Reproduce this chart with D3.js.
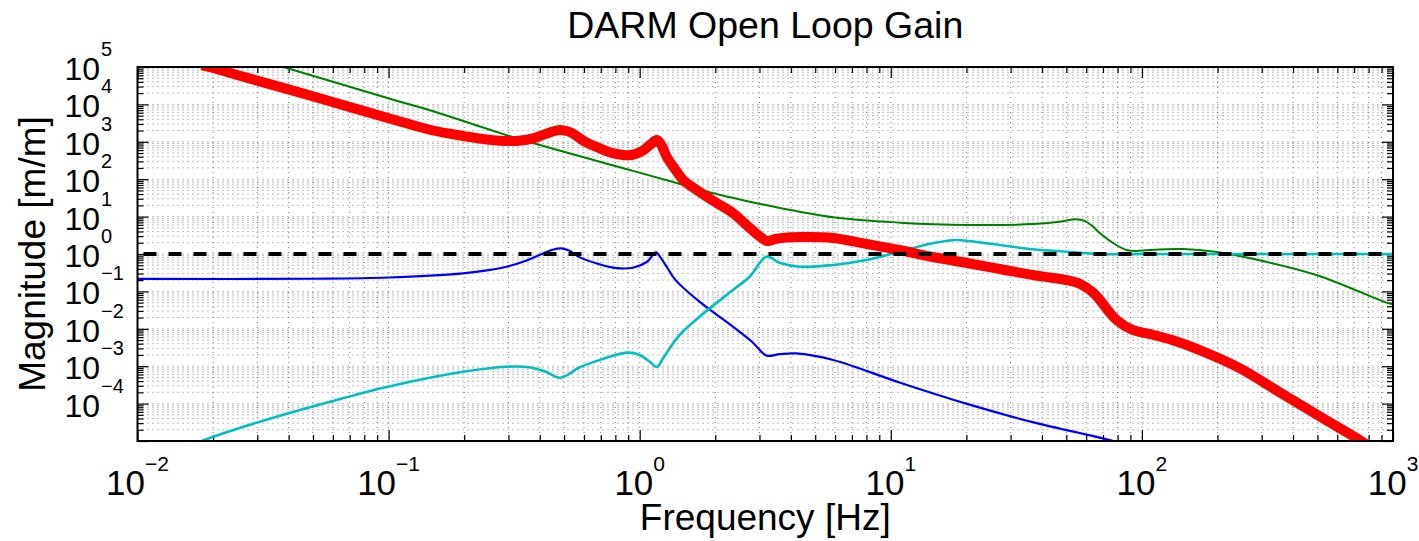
<!DOCTYPE html>
<html>
<head>
<meta charset="utf-8">
<script src="https://cdn.jsdelivr.net/npm/d3@7"></script>
<style>
  html, body { margin: 0; padding: 0; background: #fff; }
  svg { display: block; font-family: "Liberation Sans", Arial, Helvetica, sans-serif; }
</style>
</head>
<body>
<svg id="chart" width="1419" height="541"></svg>
<script>
// Open loop gain |G| (thick red)
const olgFreq = [0.018, 0.0193, 0.0272, 0.043, 0.0792, 0.111, 0.146, 0.175, 0.205, 0.24, 0.277, 0.33, 0.38, 0.43, 0.481, 0.53, 0.6, 0.694, 0.78, 0.857, 0.939, 1.02, 1.1, 1.17, 1.22, 1.28, 1.38, 1.49, 1.73, 2.05, 2.35, 2.74, 3.0, 3.21, 3.5, 4.0, 4.6, 5.87, 8.02, 10.8, 14.7, 20.1, 27.2, 36.7, 42.9, 50.2, 56.5, 63.7, 67.9, 73, 79.3, 91.8, 107, 132, 170, 245, 363, 524, 736, 820];
const olgMag  = [1.12e5, 1.0e5, 5.2e4, 2.2e4, 6700, 3500, 2100, 1650, 1380, 1180, 1070, 1060, 1250, 1700, 2070, 1800, 1050, 670, 500, 445, 450, 560, 830, 1120, 820, 400, 190, 95, 46, 22, 12.5, 5.0, 3.0, 2.23, 2.55, 2.8, 2.85, 2.68, 1.85, 1.28, 0.83, 0.574, 0.397, 0.275, 0.235, 0.2, 0.16, 0.095, 0.06, 0.032, 0.0172, 0.0093, 0.0073, 0.005, 0.0027, 8.9e-4, 1.8e-4, 4.1e-5, 1.07e-5, 6.5e-6];

// Green trace
const greenFreq = [0.0355, 0.0381, 0.111, 0.146, 0.324, 0.94, 1.59, 1.91, 2.74, 3.17, 5.9, 10.9, 20.1, 36.7, 47, 54.5, 59.4, 63.5, 67.9, 79, 86.9, 94.6, 107, 146, 196, 270, 495, 943, 1000];
const greenMag  = [1.15e5, 1.0e5, 1.18e4, 7000, 1240, 167, 63, 44, 25, 20.4, 9.6, 6.9, 5.96, 6.3, 7.3, 8.5, 7.6, 5.6, 3.64, 1.74, 1.28, 1.2, 1.28, 1.36, 1.15, 0.77, 0.275, 0.05, 0.045];

// Blue trace
const blueFreq = [0.01, 0.05, 0.1, 0.198, 0.25, 0.3, 0.35, 0.4, 0.45, 0.488, 0.525, 0.57, 0.68, 0.81, 0.94, 1.07, 1.16, 1.22, 1.28, 1.39, 1.73, 2.35, 2.8, 3.2, 3.6, 4.2, 5.9, 10.9, 20.1, 36.7, 77, 90];
const blueMag  = [0.215, 0.218, 0.235, 0.305, 0.37, 0.47, 0.65, 0.95, 1.3, 1.42, 1.22, 0.85, 0.55, 0.42, 0.43, 0.62, 1.11, 0.75, 0.457, 0.2, 0.053, 0.0114, 0.0045, 0.00192, 0.0021, 0.0022, 0.00147, 3.6e-4, 9.8e-5, 3.2e-5, 1.0e-5, 7e-6];

// Cyan trace
const cyanFreq = [0.017, 0.018, 0.0299, 0.0584, 0.0994, 0.198, 0.294, 0.363, 0.42, 0.481, 0.53, 0.566, 0.7, 0.89, 1.0, 1.1, 1.17, 1.25, 1.44, 1.73, 2.35, 2.74, 3.2, 3.6, 4.34, 5.9, 8.0, 10.8, 14.7, 18.2, 23.2, 36.7, 50.2, 68, 100, 1000];
const cyanMag  = [8.5e-6, 1.0e-5, 3.1e-5, 1.12e-4, 2.83e-4, 7.1e-4, 9.7e-4, 9.4e-4, 7.2e-4, 4.9e-4, 6.5e-4, 8.8e-4, 1.5e-3, 2.3e-3, 2.0e-3, 1.3e-3, 9.5e-4, 1.8e-3, 6.8e-3, 0.021, 0.109, 0.247, 0.85, 0.586, 0.457, 0.51, 0.69, 1.15, 1.93, 2.37, 2.0, 1.34, 1.15, 1.0, 1.0, 1.0];

// Unity gain reference
const unityFreq = [0.01, 1000];
const unityMag  = [1, 1];

// Axis decades and labelled exponents
const xDecades = [-2, -1, 0, 1, 2, 3];
const xLabelExps = [-2, -1, 0, 1, 2, 3];
const yDecades = [-5, -4, -3, -2, -1, 0, 1, 2, 3, 4, 5];
const yLabelExps = [5, 4, 3, 2, 1, 0, -1, -2, -3, -4];

const titleText = "DARM Open Loop Gain";
const xLabelText = "Frequency [Hz]";
const yLabelText = "Magnitude [m/m]";

const plot = { left: 137.5, right: 1393, top: 67, bottom: 441 };

const svg = d3.select("#chart");

const x = d3.scaleLog().domain([1e-2, 1e3]).range([plot.left, plot.right]);
const y = d3.scaleLog().domain([1e-5, 1e5]).range([plot.bottom, plot.top]);

// Major and minor tick values (1..9 times each power of ten)
function decadeTicks(decs) {
  const major = [], minor = [];
  decs.forEach((d, i) => {
    major.push(Math.pow(10, d));
    if (i < decs.length - 1) {
      for (let k = 2; k <= 9; k++) minor.push(k * Math.pow(10, d));
    }
  });
  return { major, minor };
}
const xt = decadeTicks(xDecades);
const yt = decadeTicks(yDecades);

// Dotted grid on every major and minor tick
const grid = svg.append("g").attr("class", "grid")
  .attr("stroke", "#000").attr("stroke-width", 0.7)
  .attr("stroke-dasharray", "1 4").attr("opacity", 0.7);
xt.major.concat(xt.minor).forEach(v => {
  const px = x(v);
  if (px <= plot.left + 0.5 || px >= plot.right - 0.5) return;
  grid.append("line").attr("x1", px).attr("x2", px).attr("y1", plot.top).attr("y2", plot.bottom);
});
yt.major.concat(yt.minor).forEach(v => {
  const py = y(v);
  if (py <= plot.top + 0.5 || py >= plot.bottom - 0.5) return;
  grid.append("line").attr("x1", plot.left).attr("x2", plot.right).attr("y1", py).attr("y2", py);
});

// Inward ticks on all four sides via d3 axes
const majorLen = 11, minorLen = 6;
function tickAxis(axisFn, scale, values, len, transform) {
  const g = svg.append("g").attr("transform", transform)
    .call(axisFn(scale).tickValues(values).tickSize(len).tickFormat(""));
  g.select(".domain").remove();
  g.selectAll(".tick line").attr("stroke", "#000").attr("stroke-width", 1.2);
  return g;
}
[[xt.major, majorLen], [xt.minor, minorLen]].forEach(([vals, len]) => {
  tickAxis(d3.axisTop, x, vals, len, `translate(0,${plot.bottom})`);
  tickAxis(d3.axisBottom, x, vals, len, `translate(0,${plot.top})`);
});
[[yt.major, majorLen], [yt.minor, minorLen]].forEach(([vals, len]) => {
  tickAxis(d3.axisRight, y, vals, len, `translate(${plot.left},0)`);
  tickAxis(d3.axisLeft, y, vals, len, `translate(${plot.right},0)`);
});

// Traces, clipped to the axes box
svg.append("clipPath").attr("id", "plot-clip")
  .append("rect").attr("x", plot.left).attr("y", plot.top)
  .attr("width", plot.right - plot.left).attr("height", plot.bottom - plot.top);

const lines = svg.append("g").attr("clip-path", "url(#plot-clip)");
const lineGen = d3.line()
  .x(d => x(d[0])).y(d => y(d[1]))
  .curve(d3.curveCatmullRom.alpha(0.5));
const zip = (f, m) => f.map((v, i) => [v, m[i]]);

const series = [
  { f: greenFreq, m: greenMag, color: "#008000", width: 2 },
  { f: blueFreq,  m: blueMag,  color: "#0000FF", width: 2.2 },
  { f: cyanFreq,  m: cyanMag,  color: "#00BFBF", width: 2.6 },
  { f: olgFreq,   m: olgMag,   color: "#FF0000", width: 10 }
];
series.forEach(s => {
  lines.append("path").datum(zip(s.f, s.m))
    .attr("d", lineGen)
    .attr("fill", "none").attr("stroke", s.color)
    .attr("stroke-width", s.width)
    .attr("stroke-linejoin", "round").attr("stroke-linecap", "butt");
});
lines.append("path").datum(zip(unityFreq, unityMag))
  .attr("d", d3.line().x(d => x(d[0])).y(d => y(d[1])))
  .attr("fill", "none").attr("stroke", "#000")
  .attr("stroke-width", 4).attr("stroke-dasharray", "13 12")
  .attr("stroke-dashoffset", -6);

// Axes box
svg.append("rect").attr("x", plot.left).attr("y", plot.top)
  .attr("width", plot.right - plot.left).attr("height", plot.bottom - plot.top)
  .attr("fill", "none").attr("stroke", "#000").attr("stroke-width", 2);

// X tick labels: 10 with superscript exponent
const xl = svg.append("g");
xLabelExps.forEach(e => {
  const t = xl.append("text").attr("x", x(Math.pow(10, e))).attr("y", 495)
    .attr("text-anchor", "middle").attr("fill", "#000");
  t.append("tspan").attr("font-size", 35).text("10");
  t.append("tspan").attr("font-size", 21).attr("dy", -24)
    .text(e < 0 ? "\u2212" + Math.abs(e) : String(e));
});

// Y tick labels
const yl = svg.append("g");
yLabelExps.forEach(e => {
  const py = y(Math.pow(10, e));
  yl.append("text").attr("x", 100).attr("y", py + 13)
    .attr("text-anchor", "end").attr("font-size", 32).attr("fill", "#000").text("10");
  yl.append("text").attr("x", 101).attr("y", py - 11)
    .attr("text-anchor", "start").attr("font-size", 20).attr("fill", "#000")
    .text(e < 0 ? "\u2212" + Math.abs(e) : String(e));
});

// Title and axis labels
svg.append("text").attr("x", (plot.left + plot.right) / 2).attr("y", 38)
  .attr("text-anchor", "middle").attr("font-size", 37.5).text(titleText);
svg.append("text").attr("x", (plot.left + plot.right) / 2).attr("y", 530)
  .attr("text-anchor", "middle").attr("font-size", 37).text(xLabelText);
svg.append("text").attr("transform", `translate(45,${(plot.top + plot.bottom) / 2}) rotate(-90)`)
  .attr("text-anchor", "middle").attr("font-size", 37).text(yLabelText);
</script>
</body>
</html>
